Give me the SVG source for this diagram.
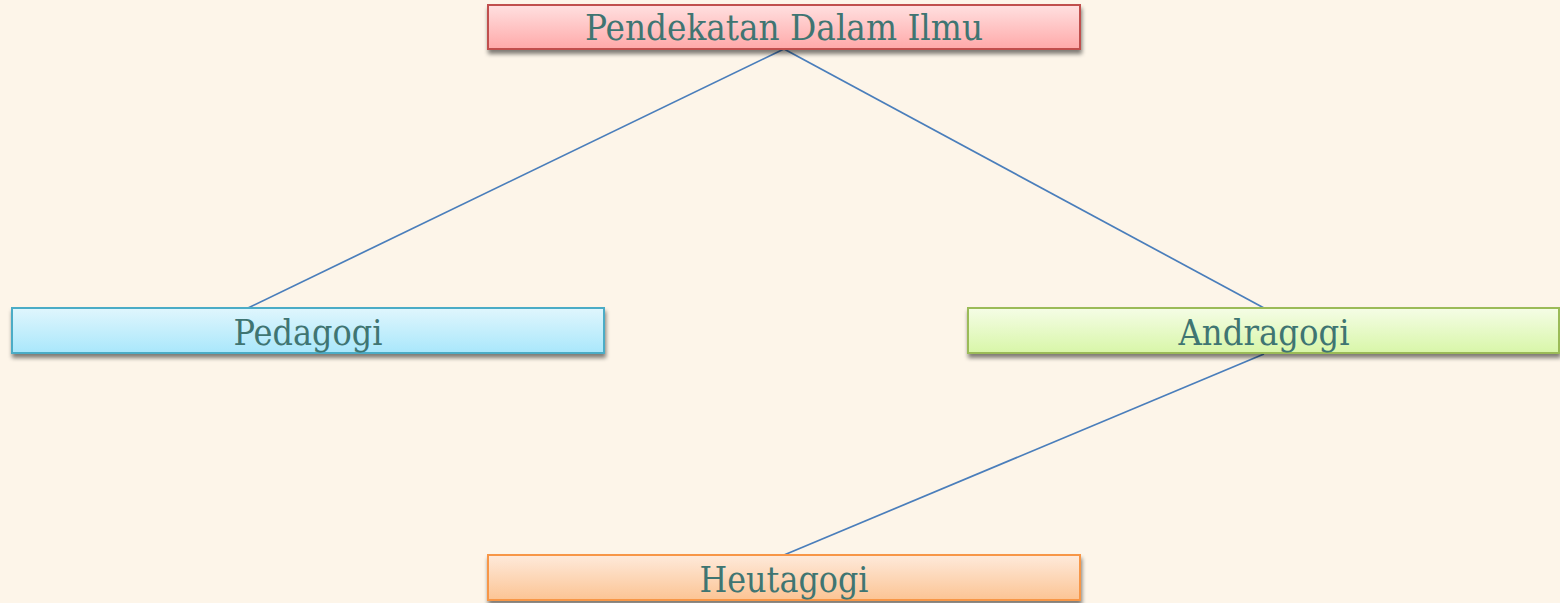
<svg xmlns="http://www.w3.org/2000/svg" width="1560" height="603" viewBox="0 0 1560 603">
  <defs>
    <linearGradient id="gRed" x1="0" y1="0" x2="0" y2="1">
      <stop offset="0" stop-color="#ffe0e0"/>
      <stop offset="1" stop-color="#ffa9a9"/>
    </linearGradient>
    <linearGradient id="gBlue" x1="0" y1="0" x2="0" y2="1">
      <stop offset="0" stop-color="#e0f6fd"/>
      <stop offset="1" stop-color="#a9e7fb"/>
    </linearGradient>
    <linearGradient id="gGreen" x1="0" y1="0" x2="0" y2="1">
      <stop offset="0" stop-color="#f5fde6"/>
      <stop offset="1" stop-color="#d8f6a8"/>
    </linearGradient>
    <linearGradient id="gOrange" x1="0" y1="0" x2="0" y2="1">
      <stop offset="0" stop-color="#feeadb"/>
      <stop offset="1" stop-color="#fcc494"/>
    </linearGradient>
    <filter id="shadow" x="-5%" y="-30%" width="110%" height="170%">
      <feGaussianBlur in="SourceAlpha" stdDeviation="2.2"/>
      <feOffset dx="1" dy="3.5" result="b"/>
      <feComponentTransfer><feFuncA type="linear" slope="0.5"/></feComponentTransfer>
      <feMerge><feMergeNode/><feMergeNode in="SourceGraphic"/></feMerge>
    </filter>
  </defs>
  <style>
    .box { stroke-width: 2; filter: url(#shadow); }
    .lbl { font-family: "DejaVu Serif", "Liberation Serif", serif; font-size: 35px; fill: #3f7572; text-anchor: middle; }
    .link { stroke: #4a7ebb; stroke-width: 1.7; fill: none; }
  </style>
  <rect width="1560" height="603" fill="#fdf5e9"/>

  <g id="connectors">
    <line class="link" x1="784" y1="49" x2="248" y2="308"/>
    <line class="link" x1="784" y1="49" x2="1264" y2="308"/>
    <line class="link" x1="1264" y1="354" x2="784" y2="555"/>
  </g>

  <g id="node-pendekatan">
    <rect class="box" x="488" y="5" width="592" height="44" fill="url(#gRed)" stroke="#c0504d"/>
    <text class="lbl" x="784" y="40" textLength="398" lengthAdjust="spacingAndGlyphs">Pendekatan Dalam Ilmu</text>
  </g>

  <g id="node-pedagogi">
    <rect class="box" x="12" y="308" width="592" height="45" fill="url(#gBlue)" stroke="#4bacc6"/>
    <text class="lbl" x="308" y="345" textLength="149" lengthAdjust="spacingAndGlyphs">Pedagogi</text>
  </g>

  <g id="node-andragogi">
    <rect class="box" x="968" y="308" width="591" height="45" fill="url(#gGreen)" stroke="#9bbb59"/>
    <text class="lbl" x="1264" y="345" textLength="171" lengthAdjust="spacingAndGlyphs">Andragogi</text>
  </g>

  <g id="node-heutagogi">
    <rect class="box" x="488" y="555" width="592" height="45" fill="url(#gOrange)" stroke="#f79646"/>
    <text class="lbl" x="784" y="592" textLength="169" lengthAdjust="spacingAndGlyphs">Heutagogi</text>
  </g>
</svg>
